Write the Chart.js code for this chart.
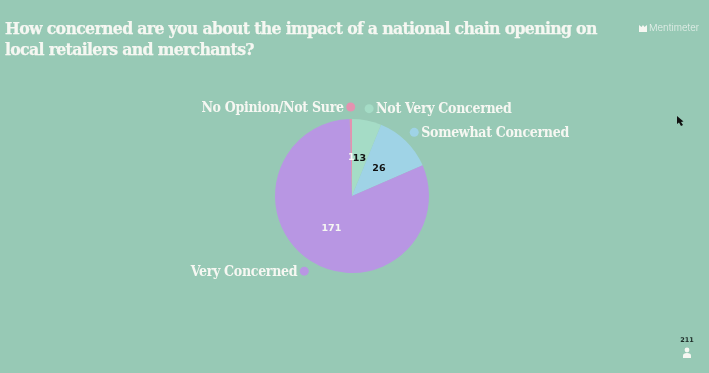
<!DOCTYPE html>
<html>
<head>
<meta charset="utf-8">
<title>Mentimeter poll</title>
<script src="https://cdn.jsdelivr.net/npm/chart.js@4"></script>
<style>
    html, body { margin: 0; padding: 0; width: 709px; height: 373px; overflow: hidden; background: #97c9b5; }
    #wrap { position: relative; width: 709px; height: 373px; filter: blur(0.5px); }
    #poll { position: absolute; left: 0; top: 0; }
    #title { position: absolute; left: 5px; top: 18px; width: 640px; margin: 0; color: #f6f7f2;
        font: bold 17.5px/21px "DejaVu Serif Condensed", "DejaVu Serif", serif; letter-spacing: -0.68px;
        -webkit-text-stroke: 0.25px #f6f7f2; }
    #brand { position: absolute; left: 649px; top: 22px; color: #e8f1ec; font: 300 9.5px/12px Inter, sans-serif; }
    #brand svg { position: absolute; left: -10px; top: 2px; }
    #count { position: absolute; left: 680px; top: 336px; width: 14px; text-align: center; color: #1c2a26;
        font: bold 6.5px/9px "DejaVu Sans", sans-serif; }
    #person { position: absolute; left: 682px; top: 347px; }
    #cursor { position: absolute; left: 676px; top: 116px; }
</style>
</head>
<body>
<div id="wrap">
    <canvas id="poll" width="709" height="373"></canvas>
    <h1 id="title">How concerned are you about the impact of a national chain opening on<br>local retailers and merchants?</h1>
    <div id="brand"><svg width="8" height="8" viewBox="0 0 8 8"><path d="M0 1 L2.5 3 L4 1 L5.5 3 L8 1 V8 H0 Z" fill="#f6f7f2"/></svg>Mentimeter</div>
    <div id="count">211</div>
    <svg id="person" width="10" height="11" viewBox="0 0 10 11"><circle cx="5" cy="3" r="2.4" fill="#f6f7f2"/><path d="M1 11 V8.5 Q1 6 5 6 Q9 6 9 8.5 V11 Z" fill="#f6f7f2"/></svg>
    <svg id="cursor" width="8" height="11" viewBox="0 0 8 11"><path d="M1 0 L1 8 L3 6.5 L5 10 L7 9 L5 6 L7.5 5.5 Z" fill="#111"/></svg>
</div>
<script>
const categories = ['Not Very Concerned', 'Somewhat Concerned', 'Very Concerned', 'No Opinion/Not Sure'];
const votes = [13, 26, 171, 1];
const sliceColors = ['#a5dcc6', '#9fd3e6', '#b896e3', '#e492b0'];
const valueColors = ['#111111', '#111111', '#f6f7f2', '#f6f7f2'];

// Hodnoty uvnitř výsečí + popisky s tečkou venku, vše podle úhlu výseče.
const pieLabels = {
    id: 'pieLabels',
    afterDatasetsDraw(chart) {
        const ctx = chart.ctx;
        ctx.save();
        ctx.textBaseline = 'middle';
        chart.getDatasetMeta(0).data.forEach(function (arc, i) {
            const c = arc.getCenterPoint();
            ctx.textAlign = 'center';
            ctx.fillStyle = valueColors[i];
            ctx.letterSpacing = '0px';
            ctx.font = 'bold 9.5px "DejaVu Sans", sans-serif';
            ctx.fillText(String(votes[i]), c.x, c.y);

            const mid = (arc.startAngle + arc.endAngle) / 2;
            const dotX = arc.x + (arc.outerRadius + 12) * Math.cos(mid);
            const dotY = arc.y + (arc.outerRadius + 12) * Math.sin(mid);
            ctx.beginPath();
            ctx.arc(dotX, dotY, 4.5, 0, Math.PI * 2);
            ctx.fillStyle = sliceColors[i];
            ctx.fill();

            const right = Math.cos(mid) > 0;
            ctx.textAlign = right ? 'left' : 'right';
            ctx.fillStyle = '#f6f7f2';
            ctx.letterSpacing = '-0.3px';
            ctx.font = 'bold 14px "DejaVu Serif Condensed", "DejaVu Serif", serif';
            ctx.fillText(categories[i], dotX + (right ? 7 : -7), dotY + 1);
        });
        ctx.restore();
    },
};

new Chart(document.getElementById('poll'), {
    type: 'pie',
    data: {
        labels: categories,
        datasets: [{ data: votes, backgroundColor: sliceColors, borderWidth: 0 }],
    },
    options: {
        responsive: false,
        animation: false,
        layout: { padding: { left: 275, right: 280, top: 119, bottom: 100 } },
        plugins: { legend: { display: false }, tooltip: { enabled: false } },
    },
    plugins: [pieLabels],
});
</script>
</body>
</html>
